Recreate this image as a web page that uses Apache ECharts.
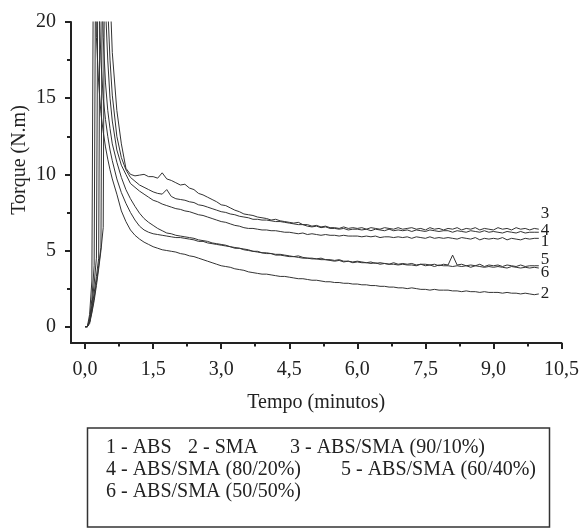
<!DOCTYPE html>
<html><head><meta charset="utf-8">
<script src="https://cdn.jsdelivr.net/npm/echarts@6/dist/echarts.min.js"></script>
<style>html,body{margin:0;padding:0;background:#fff}#c{width:582px;height:528px}</style>
</head><body><div id="c"></div>
<script>
// time samples (minutes)
const times = [0,0.05,0.1,0.15,0.2,0.25,0.3,0.35,0.4,0.45,0.5,0.55,0.6,0.7,0.8,0.9,
1.0,1.1,1.2,1.3,1.4,1.5,1.6,1.7,1.8,1.9,
2.0,2.1,2.2,2.3,2.4,2.5,2.6,2.7,2.8,2.9,
3.0,3.1,3.2,3.3,3.4,3.5,3.6,3.7,3.8,3.9,
4.0,4.1,4.2,4.3,4.4,4.5,4.6,4.7,4.8,4.9,
5.0,5.1,5.2,5.3,5.4,5.5,5.6,5.7,5.8,5.9,
6.0,6.1,6.2,6.3,6.4,6.5,6.6,6.7,6.8,6.9,
7.0,7.1,7.2,7.3,7.4,7.5,7.6,7.7,7.8,7.9,
8.0,8.1,8.2,8.3,8.4,8.5,8.6,8.7,8.8,8.9,
9.0,9.1,9.2,9.3,9.4,9.5,9.6,9.7,9.8,9.9,
10.0];

const abs = [0,0,0.3,1.2,2.2,3.3,4.5,38,28,21,17.5,15,13.5,11.6,10.6,10.0,
9.4,9.15,8.9,8.7,8.5,8.3,8.2,8.05,7.95,7.85,
7.75,7.7,7.6,7.55,7.45,7.35,7.3,7.2,7.1,7.0,
6.9,6.85,6.75,6.65,6.6,6.5,6.45,6.45,6.4,6.35,
6.35,6.3,6.3,6.25,6.2,6.2,6.15,6.1,6.15,6.05,
6.1,6.05,6.0,6.05,6.0,6.0,5.95,6.0,5.95,5.95,
5.95,5.9,5.95,5.9,5.95,5.85,5.9,5.9,5.85,5.9,
5.85,5.9,5.8,5.9,5.85,5.8,5.9,5.8,5.85,5.8,
5.85,5.8,5.75,5.85,5.8,5.75,5.85,5.7,5.8,5.75,
5.8,5.75,5.85,5.7,5.8,5.75,5.7,5.8,5.75,5.8,
5.8];

const sma = [0,0,0.8,3,35,19,16,14,12.8,11.8,11,10.3,9.7,8.7,7.6,6.9,
6.35,6.0,5.75,5.55,5.4,5.25,5.15,5.05,5.0,4.95,
4.9,4.8,4.75,4.65,4.6,4.5,4.4,4.3,4.2,4.1,
4.0,3.95,3.9,3.8,3.75,3.7,3.6,3.55,3.5,3.45,
3.45,3.4,3.35,3.3,3.3,3.25,3.2,3.15,3.15,3.1,
3.05,3.05,3.0,2.95,2.95,2.9,2.9,2.85,2.85,2.8,
2.8,2.75,2.75,2.7,2.7,2.65,2.65,2.6,2.6,2.55,
2.55,2.5,2.55,2.5,2.45,2.45,2.4,2.45,2.4,2.4,
2.4,2.35,2.35,2.3,2.35,2.3,2.3,2.25,2.3,2.25,
2.25,2.25,2.2,2.25,2.2,2.2,2.15,2.2,2.15,2.1,
2.15];

const blend90 = [0,0,0.2,0.9,1.7,2.7,3.8,5.0,6.5,39,28,22,18,14.2,12.0,10.4,
10.0,9.9,9.95,10.0,9.85,9.85,9.75,10.1,9.7,9.6,
9.45,9.3,9.35,9.1,9.0,8.75,8.65,8.5,8.35,8.2,
8.0,7.95,7.8,7.65,7.55,7.4,7.35,7.3,7.2,7.15,
7.1,7.0,7.05,6.95,6.9,6.85,6.8,6.85,6.7,6.7,
6.6,6.65,6.55,6.6,6.5,6.5,6.45,6.55,6.45,6.5,
6.45,6.5,6.4,6.5,6.45,6.4,6.5,6.45,6.4,6.5,
6.4,6.45,6.5,6.4,6.45,6.35,6.5,6.4,6.45,6.35,
6.45,6.4,6.5,6.35,6.45,6.4,6.5,6.35,6.45,6.4,
6.35,6.5,6.4,6.45,6.35,6.5,6.4,6.45,6.35,6.45,
6.4];

const blend80 = [0,0,0.3,1.0,1.9,2.9,4.0,5.2,37,27,21,17.5,15.2,12.5,11.1,10.3,
9.8,9.55,9.3,9.15,9.0,8.85,8.75,8.7,9.0,8.55,
8.4,8.35,8.3,8.2,8.15,8.0,7.95,7.85,7.75,7.65,
7.55,7.5,7.4,7.35,7.25,7.2,7.15,7.05,7.05,7.0,
7.0,6.95,6.9,6.9,6.85,6.8,6.75,6.7,6.7,6.6,
6.55,6.6,6.5,6.55,6.45,6.45,6.4,6.45,6.35,6.4,
6.4,6.35,6.4,6.3,6.4,6.35,6.3,6.4,6.3,6.35,
6.3,6.35,6.25,6.35,6.3,6.25,6.35,6.3,6.25,6.3,
6.3,6.2,6.3,6.25,6.2,6.3,6.25,6.2,6.3,6.2,
6.25,6.2,6.15,6.25,6.2,6.15,6.25,6.15,6.2,6.2,
6.2];

const blend60 = [0,0,0.4,1.4,2.8,4.5,34,25,19,16,14.2,13,12,10.8,9.8,9.0,
8.4,7.9,7.45,7.1,6.85,6.65,6.45,6.3,6.15,6.1,
6.0,5.95,5.9,5.85,5.8,5.7,5.65,5.6,5.5,5.45,
5.4,5.35,5.25,5.2,5.15,5.1,5.05,4.95,4.95,4.85,
4.85,4.8,4.75,4.75,4.7,4.65,4.6,4.65,4.55,4.5,
4.5,4.45,4.5,4.4,4.4,4.35,4.4,4.3,4.3,4.25,
4.3,4.25,4.2,4.25,4.15,4.2,4.15,4.1,4.2,4.1,
4.15,4.1,4.15,4.05,4.1,4.1,4.05,4.1,4.0,4.1,
4.05,4.7,4.05,4.1,4.0,4.05,4.0,4.1,3.95,4.05,
4.0,4.05,3.95,4.05,4.0,3.95,4.05,3.95,4.0,4.0,
4.0];

const blend50 = [0,0,0.5,1.8,4,36,22,17.5,15,13.6,12.5,11.6,10.9,9.7,8.8,8.1,
7.5,7.0,6.6,6.35,6.2,6.1,6.05,6.0,5.95,5.9,
5.85,5.85,5.8,5.75,5.7,5.6,5.6,5.5,5.45,5.4,
5.35,5.3,5.25,5.15,5.15,5.05,5.0,4.95,4.9,4.85,
4.8,4.8,4.7,4.7,4.65,4.6,4.6,4.55,4.5,4.5,
4.45,4.45,4.4,4.4,4.35,4.3,4.35,4.25,4.3,4.2,
4.25,4.2,4.2,4.15,4.2,4.1,4.15,4.1,4.1,4.05,
4.1,4.05,4.05,4.0,4.1,4.0,4.05,3.95,4.05,4.0,
4.0,3.95,4.0,3.95,4.0,3.9,4.0,3.95,3.9,3.95,
3.9,3.95,3.9,3.85,3.95,3.9,3.85,3.9,3.85,3.9,
3.85];

const curveLabels = ['1','2','3','4','5','6'];
const curveData = [abs, sma, blend90, blend80, blend60, blend50];
const xMajor = [0,1.5,3.0,4.5,6.0,7.5,9.0,10.5];
const xMinor = [0.75,2.25,3.75,5.25,6.75,8.25,9.75];
const yMajor = [0,5,10,15,20];
const yMinor = [2.5,7.5,12.5,17.5];
const legendRows = [
  ['1 - ABS','2 - SMA','3 - ABS/SMA (90/10%)'],
  ['4 - ABS/SMA (80/20%)','5 - ABS/SMA (60/40%)'],
  ['6 - ABS/SMA (50/50%)']
];

const FONT = '"Liberation Serif", "Times New Roman", serif';
const INK = '#222';
// end-label vertical nudges (px) so the numbers don't overlap
const labelNudge = [3.5, 0, -16, -2, -6, 4];

const chart = echarts.init(document.getElementById('c'), null, {renderer:'canvas'});

const series = curveData.map((vals, i) => ({
  type:'line', name: curveLabels[i],
  data: times.map((t, k) => [t, vals[k]]),
  showSymbol:false, symbol:'none', silent:true,
  lineStyle:{color:'#333', width:1},
  clip:true,
  endLabel:{show:true, formatter: curveLabels[i], distance:2, offset:[0, labelNudge[i]],
    fontFamily:FONT, fontSize:17, color:INK}
}));

const legendX = [[106,188,290],[106,341],[106]];
const legendY = [448,470,492];
const graphics = [
  {type:'rect', shape:{x:87.5, y:428, width:462, height:99},
   style:{fill:'none', stroke:'#333', lineWidth:1.5}},
  {type:'text', x:20, y:160, rotation:Math.PI/2,
   style:{text:'Torque (N.m)', font:'20px ' + FONT, fill:INK, textAlign:'center', textVerticalAlign:'middle'}}
];
legendRows.forEach((row, r) => row.forEach((txt, j) => {
  graphics.push({type:'text', x:legendX[r][j], y:legendY[r],
    style:{text:txt, font:'20px ' + FONT, fill:INK, textAlign:'left', textVerticalAlign:'middle'}});
}));

chart.setOption({
  animation:false,
  backgroundColor:'#fff',
  grid:{left:71, right:18, top:22, bottom:185, containLabel:false},
  xAxis:[
    {type:'value', min:-0.31, max:10.5,
     axisLine:{show:true, onZero:false, lineStyle:{color:INK, width:2}},
     axisTick:{show:true, customValues:xMajor, length:6, lineStyle:{color:INK, width:2}},
     axisLabel:{show:true, customValues:xMajor, margin:17, fontFamily:FONT, fontSize:20, color:INK,
       formatter:v => v.toFixed(1).replace('.', ',')},
     splitLine:{show:false},
     name:'Tempo (minutos)', nameLocation:'middle', nameGap:60,
     nameTextStyle:{fontFamily:FONT, fontSize:20, color:INK, verticalAlign:'middle'}},
    {type:'value', min:-0.31, max:10.5, position:'bottom',
     axisLine:{show:false, onZero:false},
     axisTick:{show:true, customValues:xMinor, length:3.5, lineStyle:{color:INK, width:2}},
     axisLabel:{show:false}, splitLine:{show:false}}
  ],
  yAxis:[
    {type:'value', min:-1.07, max:20,
     axisLine:{show:true, onZero:false, lineStyle:{color:INK, width:2}},
     axisTick:{show:true, customValues:yMajor, length:6, lineStyle:{color:INK, width:2}},
     axisLabel:{show:true, customValues:yMajor, margin:15, fontFamily:FONT, fontSize:20, color:INK},
     splitLine:{show:false}},
    {type:'value', min:-1.07, max:20, position:'left',
     axisLine:{show:false, onZero:false},
     axisTick:{show:true, customValues:yMinor, length:4, lineStyle:{color:INK, width:2}},
     axisLabel:{show:false}, splitLine:{show:false}}
  ],
  series: series,
  graphic: graphics
});
</script></body></html>
